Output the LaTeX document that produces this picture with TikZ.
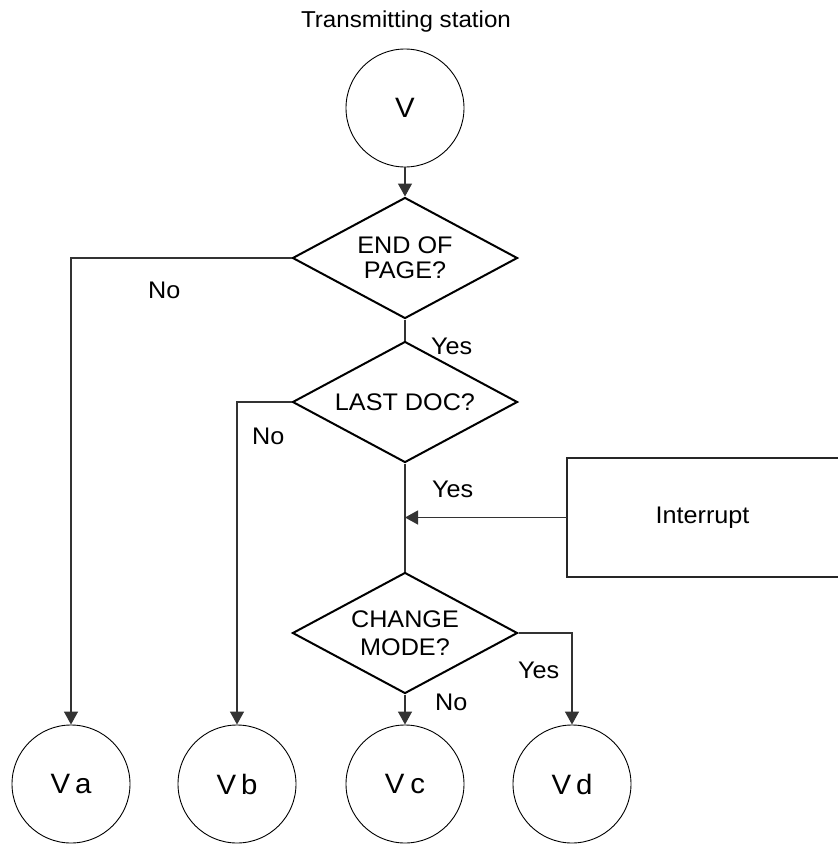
\documentclass[tikz,border=0pt]{standalone}
\usepackage{fontspec}
\setmainfont{Liberation Sans}[FakeStretch=1.05]
\usetikzlibrary{shapes.geometric,arrows.meta}
\begin{document}
\begin{tikzpicture}[x=1pt,y=-1pt,
  terminal/.style={circle,draw,line width=0.9pt,minimum size=118pt,inner sep=0pt,
    font=\fontsize{28}{30}\selectfont},
  decision/.style={diamond,draw,line width=2pt,minimum width=225pt,minimum height=121pt,
    aspect=1.86,inner sep=0pt,align=center},
  flow/.style={line width=1.3pt,draw=black!80},
  arr/.style={flow,-{Triangle[width=14pt,length=13pt]}},
  lbl/.style={font=\fontsize{24}{28}\selectfont,inner sep=0pt,anchor=base west},
]
\useasboundingbox (0,0) rectangle (838,844);

% heading
\node[font=\fontsize{23}{26}\selectfont,inner sep=0pt] (title) at (406,22) {Transmitting station};

% start connector
\node[terminal] (V) at (405,108) {V};

% decisions
\node[decision,font=\fontsize{24}{25}\selectfont] (d1) at (405,258) {END OF\\PAGE?};
\node[decision,font=\fontsize{24}{28}\selectfont] (d2) at (405,402) {LAST DOC?};
\node[decision,font=\fontsize{24}{28}\selectfont] (d3) at (405,633) {CHANGE\\MODE?};

% interrupt source (box runs off the right edge)
\node[rectangle,minimum width=271pt,minimum height=119pt,inner sep=0pt,
  font=\fontsize{24}{28}\selectfont] (intr) at (702.5,517.5) {Interrupt};
\draw[line width=2pt,draw=black!85] (intr.north east) -- (intr.north west)
  -- (intr.south west) -- (intr.south east);

% exit connectors
\node[terminal] (Va) at (71,784) {V\kern5pt a};
\node[terminal] (Vb) at (237,784) {V\kern5pt b};
\node[terminal] (Vc) at (405,784) {V\kern6pt c};
\node[terminal] (Vd) at (572,784) {V\kern5pt d};

% connectors
\draw[arr] (V) -- (d1);
\draw[arr] (d1.west) -| (Va.north);
\draw[flow] (d1.south) -- (d2.north);
\draw[arr] (d2.west) -| (Vb.north);
\draw[flow] (d2.south) -- (d3.north);
\coordinate (join) at (d2.south |- intr.west);
\draw[arr] (intr.west) -- (join);
\draw[arr] (d3.east) -| (Vd.north);
\draw[arr] (d3.south) -- (Vc.north);

% branch labels
\node[lbl] (n1) at (148,298) {No};
\node[lbl] (y1) at (431,354) {Yes};
\node[lbl] (n2) at (252,444) {No};
\node[lbl] (y2) at (432,497) {Yes};
\node[lbl] (y3) at (518,678) {Yes};
\node[lbl] (n3) at (435,710) {No};
\end{tikzpicture}
\end{document}
